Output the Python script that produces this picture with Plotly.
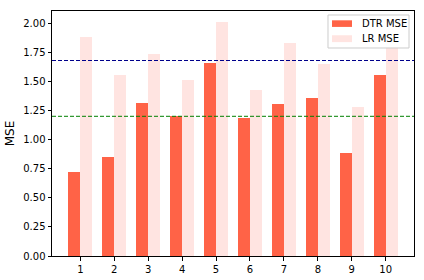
import plotly.graph_objects as go

categories = [1, 2, 3, 4, 5, 6, 7, 8, 9, 10]
dtr_mse = [0.724, 0.852, 1.313, 1.202, 1.662, 1.190, 1.307, 1.359, 0.887, 1.556]
lr_mse = [1.882, 1.554, 1.736, 1.513, 2.011, 1.427, 1.831, 1.650, 1.282, 1.797]
dtr_mean = 1.682
lr_ref = 1.202
y_ticks = [0.0, 0.25, 0.5, 0.75, 1.0, 1.25, 1.5, 1.75, 2.0]
series_names = ["DTR MSE", "LR MSE"]
series_colors = ["#FF6347", "#FFE4E1"]

bw = 0.35
fig = go.Figure()
fig.add_trace(go.Bar(x=[c - bw / 2 for c in categories], y=dtr_mse, width=bw,
                     name=series_names[0], marker=dict(color=series_colors[0], line=dict(width=0))))
fig.add_trace(go.Bar(x=[c + bw / 2 for c in categories], y=lr_mse, width=bw,
                     name=series_names[1], marker=dict(color=series_colors[1], line=dict(width=0))))
fig.add_hline(y=dtr_mean, line=dict(color="#00008B", width=1, dash="4px,2px"))
fig.add_hline(y=lr_ref, line=dict(color="#008000", width=1, dash="4px,2px"))

# matplotlib-style legend box (top right)
fig.add_shape(type="rect", xref="paper", yref="paper", x0=0.7624, x1=0.9862, y0=0.849, y1=0.9837,
              line=dict(color="#CCCCCC", width=1), fillcolor="rgba(255,255,255,0.8)", layer="above")
sw_y = [(0.935, 0.962), (0.873, 0.901)]
txt_y = [0.949, 0.888]
for name, col, (ya, yb), ty in zip(series_names, series_colors, sw_y, txt_y):
    fig.add_shape(type="rect", xref="paper", yref="paper", x0=0.7735, x1=0.8287, y0=ya, y1=yb,
                  line=dict(width=0), fillcolor=col, layer="above")
    fig.add_annotation(xref="paper", yref="paper", x=0.851, y=ty, text=name, showarrow=False,
                       xanchor="left", yanchor="middle", font=dict(size=10, color="#000000"))

fig.update_layout(
    width=424, height=280,
    margin=dict(l=52, r=10, t=11, b=24),
    plot_bgcolor="white", paper_bgcolor="white",
    font=dict(family="DejaVu Sans", size=10, color="#000000"),
    barmode="overlay", bargap=0,
    showlegend=False,
)
fig.update_xaxes(range=[0.165, 10.835], tickmode="array", tickvals=categories,
                 ticktext=[str(c) for c in categories], automargin=False,
                 showgrid=False, zeroline=False, showline=True, linecolor="black",
                 linewidth=1, mirror=True, ticks="outside", ticklen=3.5, tickcolor="black")
fig.update_yaxes(range=[0, 2.108], tickmode="array", tickvals=y_ticks,
                 ticktext=[f"{v:.2f}" for v in y_ticks], automargin=False,
                 title=dict(text="MSE", standoff=6),
                 showgrid=False, zeroline=False, showline=True, linecolor="black",
                 linewidth=1, mirror=True, ticks="outside", ticklen=3.5, tickcolor="black")

fig.write_html("out.html", config={"displayModeBar": False},
               post_script="document.body.style.margin='0';document.body.style.overflow='hidden';")
